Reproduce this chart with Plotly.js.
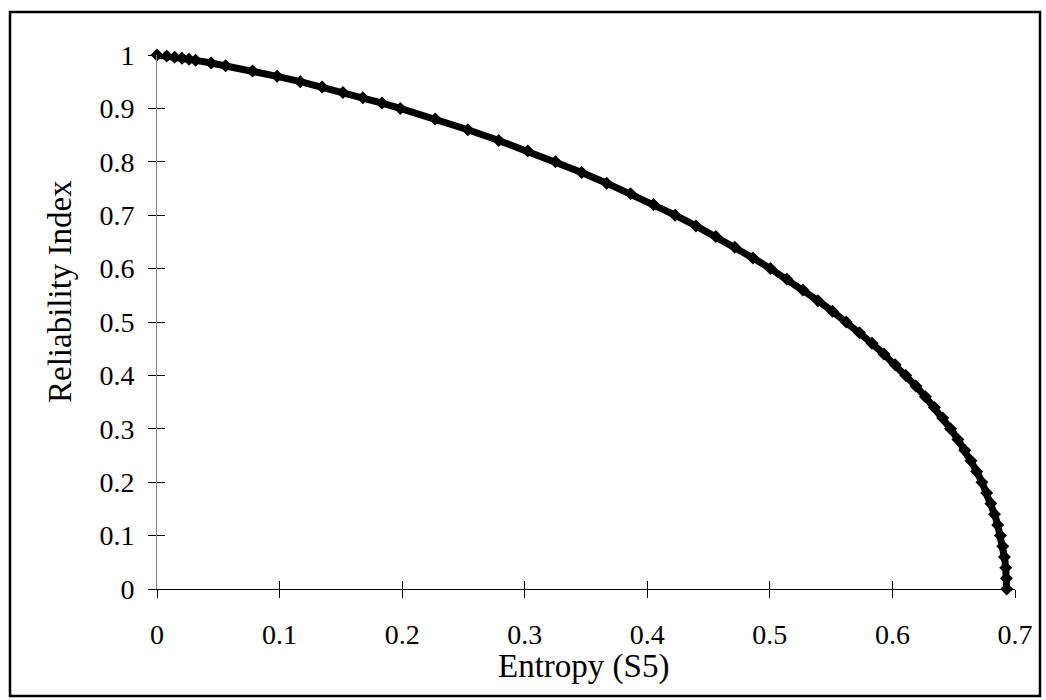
<!DOCTYPE html>
<html>
<head>
<meta charset="utf-8">
<script src="https://cdn.plot.ly/plotly-3.0.1.min.js"></script>
<style>
html,body{margin:0;padding:0;background:#fff;}
#chart{width:1046px;height:700px;}
</style>
</head>
<body>
<div id="chart"></div>
<script>
// Entropy (S5) values
const entropyS5 = [0, 0.0079, 0.0144, 0.0204, 0.0261, 0.0315, 0.0442, 0.0560, 0.0779, 0.0980,
  0.1169, 0.1347, 0.1517, 0.1679, 0.1835, 0.1985, 0.2270, 0.2536, 0.2788, 0.3025,
  0.3251, 0.3465, 0.3669, 0.3864, 0.4050, 0.4227, 0.4397, 0.4559, 0.4714, 0.4862,
  0.5004, 0.5140, 0.5269, 0.5393, 0.5511, 0.5623, 0.5731, 0.5833, 0.5930, 0.6022,
  0.6109, 0.6191, 0.6269, 0.6342, 0.6410, 0.6474, 0.6534, 0.6590, 0.6641, 0.6688,
  0.6730, 0.6769, 0.6803, 0.6833, 0.6859, 0.6881, 0.6900, 0.6914, 0.6924, 0.6930, 0.6932];
// Reliability Index values
const reliability = [1, 0.998, 0.996, 0.994, 0.992, 0.99, 0.985, 0.98, 0.97, 0.96,
  0.95, 0.94, 0.93, 0.92, 0.91, 0.90, 0.88, 0.86, 0.84, 0.82,
  0.80, 0.78, 0.76, 0.74, 0.72, 0.70, 0.68, 0.66, 0.64, 0.62,
  0.60, 0.58, 0.56, 0.54, 0.52, 0.50, 0.48, 0.46, 0.44, 0.42,
  0.40, 0.38, 0.36, 0.34, 0.32, 0.30, 0.28, 0.26, 0.24, 0.22,
  0.20, 0.18, 0.16, 0.14, 0.12, 0.10, 0.08, 0.06, 0.04, 0.02, 0];
const xTicks = [0, 0.1, 0.2, 0.3, 0.4, 0.5, 0.6, 0.7];
const yTicks = [0, 0.1, 0.2, 0.3, 0.4, 0.5, 0.6, 0.7, 0.8, 0.9, 1];

const W = 1046, H = 700;
const M = {l: 157, r: 31, t: 55, b: 111};
const pw = W - M.l - M.r, ph = H - M.t - M.b;
const px = v => (v - M.l) / pw;          // pixel -> paper x
const py = v => (H - M.b - v) / ph;      // pixel -> paper y

const font = 'Liberation Serif, Times New Roman, serif';

const trace = {
  x: entropyS5, y: reliability,
  type: 'scatter', mode: 'lines+markers',
  line: {color: '#000', width: 7},
  marker: {symbol: 'diamond', size: 10, color: '#000'},
  showlegend: false, hoverinfo: 'skip', cliponaxis: false
};
// invisible helper trace for the inside half of crossing tick marks
const helper = {x: [0], y: [0], xaxis: 'x2', yaxis: 'y2', mode: 'markers',
  marker: {opacity: 0}, showlegend: false, hoverinfo: 'skip'};

const axBase = {range: [0, 0.7], showgrid: false, zeroline: false};
const layout = {
  width: W, height: H,
  margin: M,
  paper_bgcolor: '#fff', plot_bgcolor: '#fff',
  font: {family: font, color: '#000', size: 28},
  xaxis: Object.assign({}, axBase, {
    tickvals: xTicks, ticktext: xTicks.map(String),
    showline: true, linecolor: '#000', linewidth: 1,
    ticks: 'outside', ticklen: 8, tickcolor: '#000', tickwidth: 1,
    tickfont: {family: font, size: 28}, ticklabelstandoff: 12
  }),
  yaxis: {range: [0, 1], showgrid: false, zeroline: false,
    tickvals: yTicks, ticktext: yTicks.map(String),
    showline: true, linecolor: '#808080', linewidth: 1,
    ticks: 'outside', ticklen: 8, tickcolor: '#000', tickwidth: 1,
    tickfont: {family: font, size: 28}, ticklabelstandoff: 8
  },
  xaxis2: Object.assign({}, axBase, {overlaying: 'x', anchor: 'y2',
    tickvals: xTicks, showticklabels: false, ticks: 'inside', ticklen: 8,
    tickcolor: '#000', tickwidth: 1, showline: false}),
  yaxis2: {range: [0, 1], overlaying: 'y', anchor: 'x2', showgrid: false, zeroline: false,
    tickvals: yTicks, showticklabels: false, ticks: 'inside', ticklen: 8,
    tickcolor: '#000', tickwidth: 1, showline: false},
  annotations: [
    {text: 'Entropy (S5)', xref: 'paper', yref: 'paper', x: px(583), y: py(666),
      xanchor: 'center', yanchor: 'middle', showarrow: false, font: {family: font, size: 33}},
    {text: 'Reliability Index', xref: 'paper', yref: 'paper', x: px(60), y: py(292),
      xanchor: 'center', yanchor: 'middle', textangle: -90, showarrow: false, font: {family: font, size: 33}}
  ],
  shapes: [
    {type: 'rect', xref: 'paper', yref: 'paper', x0: px(10), x1: px(1040), y0: py(696), y1: py(12),
      line: {color: '#000', width: 2.5}, fillcolor: 'rgba(0,0,0,0)', layer: 'below'}
  ]
};
Plotly.newPlot('chart', [trace, helper], layout, {displayModeBar: false, staticPlot: true});
</script>
</body>
</html>
